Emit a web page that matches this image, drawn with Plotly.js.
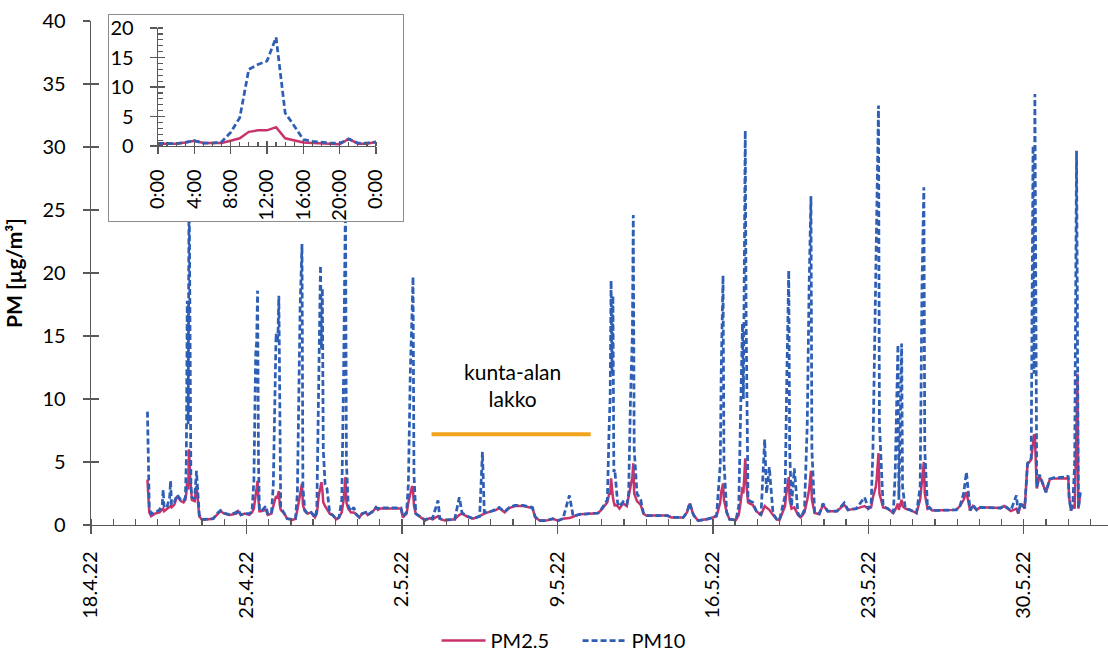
<!DOCTYPE html>
<html>
<head>
<meta charset="utf-8">
<script src="https://cdn.plot.ly/plotly-3.0.1.min.js"></script>
<style>
  html, body { margin: 0; padding: 0; background: #fff; overflow: hidden; }
  #main { position: absolute; left: 0; top: 0; width: 1108px; height: 660px; }
  #inset { position: absolute; left: 108px; top: 14px; width: 294px; height: 206px;
           border: 1px solid #8c8c8c; background: #fff; }
</style>
</head>
<body>
<div id="main"></div>
<div id="inset"></div>
<script>
// Hourly PM readings (µg/m³), 2022; stamps are "MM-DD HH"
const stamps = [
  '04-20 13','04-20 15','04-20 17','04-20 21','04-21 02','04-21 05','04-21 06','04-21 07','04-21 10','04-21 13',
  '04-21 14','04-21 15','04-21 18','04-21 21','04-22 01','04-22 04','04-22 06','04-22 07','04-22 08','04-22 09',
  '04-22 10','04-22 11','04-22 12','04-22 13','04-22 16','04-22 18','04-22 20','04-22 21','04-23 00','04-23 06',
  '04-23 12','04-23 16','04-23 20','04-24 00','04-24 06','04-24 13','04-24 15','04-24 18','04-24 22','04-25 03',
  '04-25 06','04-25 08','04-25 10','04-25 11','04-25 12','04-25 13','04-25 14','04-25 16','04-25 21','04-25 23',
  '04-26 03','04-26 05','04-26 07','04-26 08','04-26 09','04-26 10','04-26 11','04-26 12','04-26 13','04-26 17',
  '04-26 20','04-27 02','04-27 05','04-27 07','04-27 10','04-27 12','04-27 13','04-27 15','04-27 18','04-27 22',
  '04-28 02','04-28 04','04-28 05','04-28 06','04-28 08','04-28 09','04-28 10','04-28 11','04-28 13','04-28 15',
  '04-28 18','04-28 21','04-29 01','04-29 04','04-29 07','04-29 09','04-29 11','04-29 12','04-29 14','04-29 17',
  '04-29 20','04-29 22','04-30 02','04-30 05','04-30 09','04-30 11','04-30 17','04-30 20','04-30 22','05-01 00',
  '05-01 23','05-02 01','05-02 05','05-02 07','05-02 09','05-02 11','05-02 12','05-02 13','05-02 15','05-02 21',
  '05-03 01','05-03 06','05-03 09','05-03 15','05-03 17','05-03 22','05-04 09','05-04 14','05-04 17','05-04 23',
  '05-05 05','05-05 12','05-05 15','05-05 17','05-06 01','05-06 06','05-06 09','05-06 15','05-06 20','05-07 02',
  '05-07 11','05-07 21','05-08 00','05-08 05','05-08 12','05-08 19','05-09 01','05-09 06','05-09 13','05-09 17',
  '05-10 00','05-10 11','05-10 20','05-10 23','05-11 03','05-11 06','05-11 08','05-11 09','05-11 10','05-11 11',
  '05-11 12','05-11 13','05-11 14','05-11 15','05-11 17','05-11 19','05-11 23','05-12 03','05-12 05','05-12 07',
  '05-12 09','05-12 10','05-12 11','05-12 14','05-12 18','05-12 21','05-13 00','05-13 23','05-14 03','05-14 16',
  '05-14 20','05-14 23','05-15 03','05-15 08','05-15 17','05-16 00','05-16 04','05-16 08','05-16 09','05-16 11',
  '05-16 12','05-16 15','05-16 18','05-17 01','05-17 04','05-17 06','05-17 08','05-17 09','05-17 10','05-17 11',
  '05-17 12','05-17 13','05-17 14','05-17 16','05-17 19','05-17 23','05-18 04','05-18 08','05-18 10','05-18 13',
  '05-18 17','05-18 21','05-19 00','05-19 06','05-19 07','05-19 08','05-19 10','05-19 11','05-19 13','05-19 16',
  '05-19 20','05-19 23','05-20 03','05-20 06','05-20 08','05-20 10','05-20 11','05-20 14','05-20 19','05-20 23',
  '05-21 04','05-21 14','05-21 22','05-22 02','05-22 11','05-22 20','05-23 00','05-23 03','05-23 05','05-23 08',
  '05-23 09','05-23 11','05-23 12','05-23 16','05-23 21','05-24 03','05-24 05','05-24 08','05-24 09','05-24 10',
  '05-24 11','05-24 12','05-24 13','05-24 16','05-24 21','05-25 04','05-25 08','05-25 09','05-25 10','05-25 12',
  '05-25 13','05-25 16','05-25 18','05-25 21','05-26 09','05-26 23','05-27 03','05-27 07','05-27 10','05-27 14',
  '05-27 17','05-27 21','05-28 01','05-28 23','05-29 03','05-29 07','05-29 10','05-29 16','05-29 18','05-29 21',
  '05-30 01','05-30 04','05-30 08','05-30 10','05-30 11','05-30 12','05-30 13','05-30 14','05-30 17','05-30 21',
  '05-31 00','05-31 04','05-31 08','05-31 22','06-01 00','06-01 01','06-01 03','06-01 05','06-01 07','06-01 09',
  '06-01 10','06-01 11','06-01 13'
];

const pm25 = [
  3.6,1.0,0.7,0.9,1.0,1.2,1.3,1.1,1.3,1.5,
  1.5,1.4,1.6,2.3,1.9,1.8,2.0,2.5,3.5,2.8,
  6.0,4.0,2.5,2.0,1.9,3.1,1.5,0.7,0.4,0.45,
  0.5,0.8,1.1,0.9,0.8,0.9,1.1,0.8,0.9,0.8,
  1.0,1.3,2.5,3.0,3.5,2.0,1.1,1.1,1.2,0.8,
  0.9,1.5,2.0,2.3,2.1,2.4,2.7,1.6,1.2,0.9,
  0.5,0.4,0.5,1.2,2.3,3.3,1.6,1.1,0.9,1.0,
  0.6,0.9,1.5,2.3,3.0,3.4,2.8,1.8,1.5,1.3,
  0.9,0.8,0.45,0.6,1.0,2.0,3.8,1.8,1.3,1.0,
  1.0,0.9,0.6,0.9,1.0,0.8,1.1,1.4,1.2,1.3,
  1.3,0.6,0.9,1.8,2.5,3.1,2.8,1.5,0.9,0.6,
  0.35,0.55,0.45,0.7,0.5,0.35,0.45,0.8,0.9,0.65,
  0.5,0.7,0.8,0.9,1.1,1.2,1.35,1.0,1.35,1.5,
  1.5,1.35,0.6,0.35,0.35,0.5,0.35,0.5,0.55,0.65,
  0.85,0.9,0.95,1.15,1.5,1.8,2.5,2.4,3.7,2.6,
  2.2,1.8,1.5,1.6,1.5,1.3,1.7,1.5,2.3,3.0,
  3.8,4.9,2.5,1.9,1.6,0.9,0.75,0.75,0.6,0.6,
  1.0,1.7,0.8,0.35,0.45,0.6,0.7,1.8,2.6,3.3,
  2.0,1.0,0.45,0.4,0.8,1.8,3.0,2.5,4.0,5.3,
  3.5,2.5,1.8,1.7,1.6,1.1,0.8,1.5,1.4,1.2,
  0.8,0.45,0.4,1.5,2.3,2.8,3.8,2.0,1.3,1.4,
  0.8,0.6,1.0,2.0,2.8,4.3,2.0,0.95,0.85,1.6,
  1.1,1.1,1.6,1.2,1.3,1.5,1.3,1.4,2.2,3.0,
  3.6,5.7,2.5,1.4,1.3,0.95,1.2,1.7,1.2,1.5,
  1.8,2.0,1.5,1.3,1.2,0.95,2.0,3.0,3.5,5.0,
  2.5,1.3,1.4,1.15,1.15,1.2,1.5,2.0,2.6,1.15,
  1.5,1.2,1.4,1.35,1.5,1.3,1.1,1.3,0.9,1.7,
  1.3,4.8,5.2,6.5,7.2,7.0,5.5,2.9,3.9,3.1,
  2.6,3.6,3.7,3.7,3.8,2.2,1.15,1.6,1.3,8.0,
  12.0,1.3,2.5
];

const pm10 = [
  9.0,1.3,0.9,1.0,1.2,1.6,2.8,1.4,1.4,2.2,
  3.5,1.6,1.8,2.4,2.0,1.9,2.2,5.0,17.8,8.0,
  28.0,12.0,3.0,2.2,2.1,4.3,1.6,0.8,0.45,0.5,
  0.5,0.9,1.15,0.95,0.8,1.0,1.2,0.8,0.9,0.9,
  1.1,3.5,13.6,14.5,18.6,5.0,1.2,1.1,1.5,0.9,
  0.9,3.2,13.0,15.2,14.5,15.0,18.2,5.0,1.4,0.9,
  0.5,0.45,0.5,2.5,17.3,22.3,3.0,1.2,0.9,1.0,
  0.6,1.2,6.4,13.0,20.6,14.0,18.8,6.0,3.2,2.9,
  0.9,0.8,0.45,0.6,2.0,12.0,26.0,5.0,1.5,1.1,
  1.4,0.9,0.6,0.9,1.0,0.8,1.1,1.4,1.3,1.35,
  1.35,0.7,1.0,3.3,12.0,17.0,19.7,4.0,0.9,0.6,
  0.4,0.6,0.5,1.95,0.5,0.4,0.45,2.2,0.95,0.7,
  0.5,0.7,5.8,1.0,1.1,1.25,1.4,1.05,1.4,1.55,
  1.55,1.4,0.65,0.35,0.35,0.5,0.35,0.5,2.35,0.7,
  0.85,0.9,0.95,1.2,1.6,2.0,8.0,10.0,19.4,12.0,
  18.2,4.2,4.4,3.6,1.8,1.45,1.85,1.6,2.5,10.0,
  15.0,24.6,6.0,2.5,2.0,0.95,0.75,0.75,0.6,0.6,
  1.0,1.75,0.8,0.35,0.45,0.6,0.75,4.8,12.0,19.8,
  5.0,1.0,0.45,0.4,1.5,9.0,16.0,10.0,20.0,31.3,
  16.0,8.0,2.0,1.9,1.8,1.1,0.8,6.8,2.5,4.6,
  0.9,0.45,0.4,2.3,8.0,12.0,20.2,6.0,1.5,4.5,
  0.9,0.6,1.2,8.0,18.9,26.1,6.0,1.0,0.9,1.7,
  1.1,1.1,1.75,1.2,1.3,2.2,1.3,1.5,6.0,18.8,
  21.5,33.3,8.0,1.5,1.3,0.95,4.0,14.3,2.0,6.0,
  13.0,14.4,3.0,1.3,1.2,0.95,3.0,12.0,19.0,26.8,
  6.0,1.3,1.4,1.15,1.15,1.2,1.5,2.5,4.2,1.15,
  1.6,1.2,1.4,1.35,1.55,1.3,1.15,2.35,0.95,1.8,
  1.35,4.9,5.3,30.1,12.0,34.2,11.5,3.0,4.0,3.2,
  2.6,3.65,3.75,3.8,3.9,2.2,1.15,1.7,5.0,29.7,
  12.2,1.3,2.6
];

// Municipal-sector strike period, drawn as a bar above the data
const strikeSpan = ['2022-05-03 08:00', '2022-05-10 12:00'];
const strikeLevel = 7.2;
const strikeLabel = 'kunta-alan<br>lakko';

// Average diurnal profile (hour of day 0..24)
const hours = [0,1,2,3,4,5,6,7,8,9,10,11,12,13,14,15,16,17,18,19,20,21,22,23,24];
const dayPm25 = [0.4,0.4,0.4,0.6,0.9,0.5,0.5,0.5,0.9,1.3,2.4,2.65,2.65,3.2,1.3,0.95,0.6,0.5,0.4,0.3,0.3,1.2,0.4,0.4,0.7];
const dayPm10 = [0.45,0.4,0.4,0.6,0.9,0.5,0.5,0.7,2.3,4.8,13.0,13.8,14.4,18.4,5.6,3.4,1.1,0.8,0.6,0.5,0.45,1.2,0.5,0.5,0.7];
const hourTicks = [0,4,8,12,16,20,24];
const hourLabels = ['0:00','4:00','8:00','12:00','16:00','20:00','0:00'];

const FONT = 'Lato, "Open Sans", sans-serif';
const AX = '#595959';
const PINK = '#C8336B';
const BLUE = '#2E5FB5';
const ORANGE = '#F2A31C';
const DAY = 864e5;

const times = stamps.map(s => '2022-' + s + ':00');
const xRange = ['2022-04-18 00:00', '2022-06-02 19:00'];

const mainTraces = [
  { x: times, y: pm25, name: 'PM2.5', type: 'scatter', mode: 'lines',
    line: { color: PINK, width: 2.5 } },
  { x: times, y: pm10, name: 'PM10', type: 'scatter', mode: 'lines',
    line: { color: BLUE, width: 2.75, dash: '6px,3px' } },
  { x: strikeSpan, y: [strikeLevel, strikeLevel], xaxis: 'x2', yaxis: 'y2',
    type: 'scatter', mode: 'lines', showlegend: false, hoverinfo: 'skip',
    line: { color: ORANGE, width: 4 } }
];

const tickFont = { family: FONT, size: 20, color: '#000' };

const mainLayout = {
  width: 1108, height: 660,
  margin: { l: 91, r: 0, t: 21, b: 135, autoexpand: false },
  paper_bgcolor: '#fff', plot_bgcolor: '#fff',
  font: tickFont,
  showlegend: true,
  legend: { orientation: 'h', xref: 'container', yref: 'container',
            x: 0.394, xanchor: 'left', y: -0.009, yanchor: 'bottom',
            itemwidth: 44, entrywidth: 82, entrywidthmode: 'pixels',
            font: { family: FONT, size: 20, color: '#000' } },
  xaxis: {
    type: 'date', range: xRange, tickmode: 'linear', tick0: '2022-04-18', dtick: 7 * DAY,
    tickformat: '%-d.%-m.%y', tickangle: -90, tickfont: tickFont, automargin: false,
    ticks: 'outside', ticklen: 8, tickwidth: 1.3, tickcolor: AX, ticklabelstandoff: 9,
    showline: true, linecolor: AX, linewidth: 1.3, showgrid: false, zeroline: false,
    minor: { tickmode: 'linear', tick0: '2022-04-18', dtick: DAY, ticks: 'inside',
             ticklen: 6, tickwidth: 1.3, tickcolor: AX, showgrid: false }
  },
  xaxis2: {
    type: 'date', overlaying: 'x', anchor: 'y', side: 'bottom', range: xRange,
    tickmode: 'linear', tick0: '2022-04-18', dtick: 7 * DAY, automargin: false,
    ticks: 'inside', ticklen: 6, tickwidth: 1.3, tickcolor: AX,
    showticklabels: false, showline: false, showgrid: false, zeroline: false
  },
  yaxis: {
    range: [0, 40], tickmode: 'linear', tick0: 0, dtick: 5, tickfont: tickFont,
    automargin: false,
    ticks: 'outside', ticklen: 7, tickwidth: 1.3, tickcolor: AX, ticklabelstandoff: 13,
    showline: true, linecolor: AX, linewidth: 1.3, showgrid: false, zeroline: false,
    title: { text: 'PM [µg/m³]', standoff: 14,
             font: { family: FONT, size: 21, color: '#000', weight: 'bold' } }
  },
  yaxis2: {
    range: [0, 40], overlaying: 'y', anchor: 'x', side: 'left', automargin: false,
    tickmode: 'linear', tick0: 0, dtick: 5,
    ticks: 'inside', ticklen: 8, tickwidth: 1.3, tickcolor: AX,
    showticklabels: false, showline: false, showgrid: false, zeroline: false
  },
  annotations: [{
    x: '2022-05-06 23:00', y: 11.1, xref: 'x', yref: 'y', text: strikeLabel,
    showarrow: false, align: 'center', font: { family: FONT, size: 21, color: '#000' }
  }]
};

const insetTraces = [
  { x: hours, y: dayPm25, type: 'scatter', mode: 'lines', name: 'PM2.5',
    line: { color: PINK, width: 2.5 }, cliponaxis: false },
  { x: hours, y: dayPm10, type: 'scatter', mode: 'lines', name: 'PM10',
    line: { color: BLUE, width: 2.75, dash: '6px,3px' }, cliponaxis: false },
  { x: [], y: [], xaxis: 'x2', yaxis: 'y2', type: 'scatter', mode: 'lines',
    showlegend: false, hoverinfo: 'skip' }
];

const insetLayout = {
  width: 294, height: 206,
  margin: { l: 49, r: 27, t: 13, b: 75, autoexpand: false },
  paper_bgcolor: '#fff', plot_bgcolor: '#fff',
  font: tickFont, showlegend: false,
  xaxis: {
    range: [0, 24], tickmode: 'array', tickvals: hourTicks, ticktext: hourLabels,
    tickangle: -90, tickfont: tickFont, ticks: 'outside', ticklen: 7, tickwidth: 1.3,
    tickcolor: AX, ticklabelstandoff: 7, showline: true, linecolor: AX, linewidth: 1.3,
    showgrid: false, zeroline: false, automargin: false,
    minor: { tickmode: 'linear', tick0: 0, dtick: 1, ticks: 'inside', ticklen: 4,
             tickwidth: 1.2, tickcolor: AX, showgrid: false }
  },
  xaxis2: {
    range: [0, 24], overlaying: 'x', anchor: 'y', side: 'bottom', automargin: false,
    tickmode: 'array', tickvals: hourTicks, ticks: 'inside', ticklen: 5, tickwidth: 1.3,
    tickcolor: AX, showticklabels: false, showline: false, showgrid: false, zeroline: false
  },
  yaxis: {
    range: [0, 20], tickmode: 'linear', tick0: 0, dtick: 5, tickfont: tickFont,
    ticks: 'outside', ticklen: 7, tickwidth: 1.3, tickcolor: AX, ticklabelstandoff: 12,
    showline: true, linecolor: AX, linewidth: 1.3, showgrid: false, zeroline: false,
    automargin: false,
    minor: { tickmode: 'linear', tick0: 0, dtick: 1, ticks: 'inside', ticklen: 5,
             tickwidth: 1.2, tickcolor: AX, showgrid: false }
  },
  yaxis2: {
    range: [0, 20], overlaying: 'y', anchor: 'x', side: 'left', automargin: false,
    tickmode: 'linear', tick0: 0, dtick: 5, ticks: 'inside', ticklen: 7, tickwidth: 1.3,
    tickcolor: AX, showticklabels: false, showline: false, showgrid: false, zeroline: false
  }
};

const config = { staticPlot: true, displayModeBar: false };
Plotly.newPlot('main', mainTraces, mainLayout, config);
Plotly.newPlot('inset', insetTraces, insetLayout, config);
</script>
</body>
</html>
